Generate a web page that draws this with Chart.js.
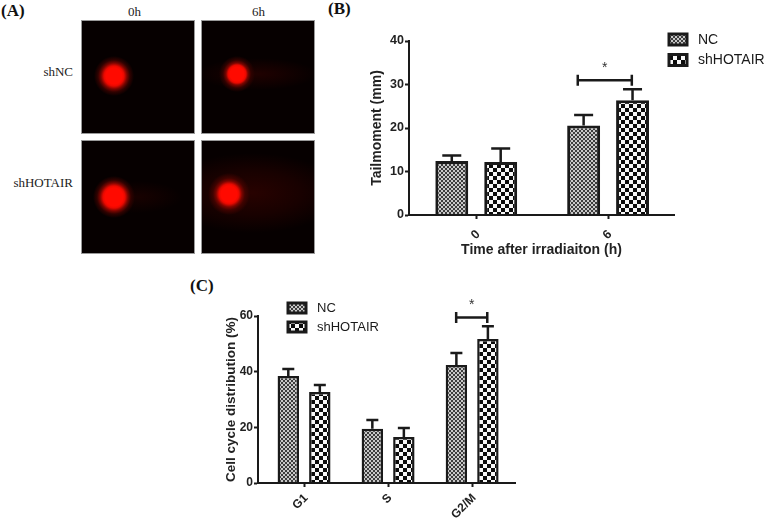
<!DOCTYPE html>
<html>
<head>
<meta charset="utf-8">
<title>Comet assay and cell cycle</title>
<script src="https://cdn.jsdelivr.net/npm/chart.js@4"></script>
<style>
    html, body { margin: 0; padding: 0; background: #fff; }
    #page { position: relative; width: 777px; height: 532px; overflow: hidden; }
    canvas { position: absolute; filter: blur(0.35px); }
    .serif { position: absolute; font-family: "Liberation Serif", serif; color: #222; white-space: nowrap; line-height: 1; }
    .panel-letter { font-size: 17px; font-weight: bold; color: #111; }
    .comet { position: absolute; width: 112px; height: 112px; border: 1px solid #999; background-color: #060000; }
</style>
</head>
<body>
<div id="page">
    <div class="serif panel-letter" style="left:1px;top:2px">(A)</div>
    <div class="serif panel-letter" style="left:328px;top:0px">(B)</div>
    <div class="serif panel-letter" style="left:190px;top:277px">(C)</div>

    <div class="serif" style="left:128px;top:5px;font-size:13px">0h</div>
    <div class="serif" style="left:252px;top:5px;font-size:13px">6h</div>
    <div class="serif" style="right:704px;top:65px;font-size:13px">shNC</div>
    <div class="serif" style="right:704px;top:176px;font-size:13px">shHOTAIR</div>

    <div class="comet" style="left:81px;top:20px;background-image:radial-gradient(circle 20px at 32px 55px,#ff0a00 0,#ff0a00 8px,#e80900 10px,#7a0500 13px,#300200 16px,rgba(30,0,0,0) 20px)"></div>
    <div class="comet" style="left:201px;top:20px;background-image:radial-gradient(circle 18px at 35px 53px,#ff0a00 0,#ff0a00 7px,#e80900 9px,#7a0500 11px,#300200 14px,rgba(30,0,0,0) 18px),radial-gradient(ellipse 60px 16px at 55px 53px,#200100 0,rgba(20,0,0,0) 100%)"></div>
    <div class="comet" style="left:81px;top:140px;background-image:radial-gradient(circle 21px at 32px 56px,#ff0a00 0,#ff0a00 9px,#e80900 11px,#7a0500 14px,#300200 17px,rgba(30,0,0,0) 21px),radial-gradient(ellipse 45px 16px at 55px 56px,#180100 0,rgba(20,0,0,0) 100%)"></div>
    <div class="comet" style="left:201px;top:140px;background-image:radial-gradient(circle 21px at 27px 53px,#ff0a00 0,#ff0a00 8px,#e80900 10px,#7a0500 13px,#400300 16px,rgba(30,0,0,0) 21px),radial-gradient(ellipse 90px 40px at 50px 52px,#280200 0,#180100 55%,rgba(20,0,0,0) 100%)"></div>

    <canvas id="tailChart" width="432" height="245" style="left:345px;top:20px"></canvas>
    <canvas id="cycleChart" width="330" height="248" style="left:195px;top:284px"></canvas>
</div>

<script>
// =========================================
// Data
// =========================================
const seriesNames = ["NC", "shHOTAIR"];

const tailCategories = ["0", "6"];
const tailTicks = [0, 10, 20, 30, 40];
const tailNC = [12.4, 20.6];
const tailSh = [12.2, 26.4];
const tailNCErr = [13.7, 23.0];
const tailShErr = [15.3, 28.9];
const tailBracket = [0.77, 1.18, 31];

const cycleCategories = ["G1", "S", "G2/M"];
const cycleTicks = [0, 20, 40, 60];
const cycleNC = [38.4, 19.5, 42.4];
const cycleSh = [32.7, 16.5, 51.7];
const cycleNCErr = [41.0, 22.6, 46.7];
const cycleShErr = [35.2, 19.8, 56.3];
const cycleBracket = [1.81, 2.18, 59.5];

const INK = "#1a1a1a";
const AXIS_FONT = "'Liberation Sans', Arial, sans-serif";

// =========================================
// Hatch patterns for the bars
// =========================================
function checkerPattern(size, dark, light) {
    const tile = document.createElement("canvas");
    tile.width = size;
    tile.height = size;
    const ctx = tile.getContext("2d");
    ctx.fillStyle = light;
    ctx.fillRect(0, 0, size, size);
    ctx.fillStyle = dark;
    ctx.fillRect(0, 0, size / 2, size / 2);
    ctx.fillRect(size / 2, size / 2, size / 2, size / 2);
    return ctx.createPattern(tile, "repeat");
}

const finePattern = checkerPattern(4, "#3c3c3c", "#c8c8c8");
const coarsePattern = checkerPattern(8, "#0c0c0c", "#f8f8f8");

// =========================================
// Error bars, significance bracket and legend
// =========================================
const annotationPlugin = {
    id: "annotations",
    afterDatasetsDraw(chart, args, opts) {
        const ctx = chart.ctx;
        const xScale = chart.scales.x;
        const yScale = chart.scales.y;

        ctx.save();
        ctx.strokeStyle = INK;
        ctx.lineWidth = 2.5;

        opts.errors.forEach((tops, datasetIndex) => {
            chart.getDatasetMeta(datasetIndex).data.forEach((bar, i) => {
                const top = yScale.getPixelForValue(tops[i]);
                ctx.beginPath();
                ctx.moveTo(bar.x, bar.y);
                ctx.lineTo(bar.x, top);
                ctx.moveTo(bar.x - opts.capHalf, top);
                ctx.lineTo(bar.x + opts.capHalf, top);
                ctx.stroke();
            });
        });

        // bracket
        const x0 = xScale.getPixelForValue(opts.bracket[0]);
        const x1 = xScale.getPixelForValue(opts.bracket[1]);
        const by = yScale.getPixelForValue(opts.bracket[2]);
        ctx.beginPath();
        ctx.moveTo(x0, by);
        ctx.lineTo(x1, by);
        ctx.moveTo(x0, by - 5.5);
        ctx.lineTo(x0, by + 5.5);
        ctx.moveTo(x1, by - 5.5);
        ctx.lineTo(x1, by + 5.5);
        ctx.stroke();

        ctx.fillStyle = "#333";
        ctx.font = "14px " + AXIS_FONT;
        ctx.textAlign = "center";
        ctx.textBaseline = "middle";
        ctx.fillText("*", (x0 + x1) / 2, by - 12);

        // legend
        const lg = opts.legend;
        ctx.lineWidth = 3;
        ctx.font = lg.fontSize + "px " + AXIS_FONT;
        ctx.textAlign = "left";
        seriesNames.forEach((name, i) => {
            const y = lg.top + i * lg.rowGap;
            ctx.fillStyle = i === 0 ? finePattern : coarsePattern;
            ctx.fillRect(lg.left, y, 18, lg.boxHeight);
            ctx.strokeRect(lg.left, y, 18, lg.boxHeight);
            ctx.fillStyle = INK;
            ctx.fillText(name, lg.left + 29, y + lg.boxHeight / 2 + 0.5);
        });
        ctx.restore();
    },
};

// =========================================
// Shared chart builder
// =========================================
function groupedBarChart(id, cfg) {
    const toPoints = (values) => values.map((v, i) => ({ x: i, y: v }));

    return new Chart(document.getElementById(id), {
        type: "bar",
        data: {
            datasets: [
                {
                    label: seriesNames[0],
                    data: toPoints(cfg.nc),
                    backgroundColor: finePattern,
                },
                {
                    label: seriesNames[1],
                    data: toPoints(cfg.sh),
                    backgroundColor: coarsePattern,
                },
            ].map((d) => ({
                ...d,
                borderColor: INK,
                borderWidth: cfg.barBorder,
                borderSkipped: "bottom",
                categoryPercentage: cfg.categoryPercentage,
                barPercentage: cfg.barPercentage,
            })),
        },
        options: {
            responsive: false,
            animation: false,
            layout: { autoPadding: false, padding: cfg.padding },
            scales: {
                x: {
                    type: "linear",
                    offset: false,
                    min: cfg.xMin,
                    max: cfg.xMax,
                    afterBuildTicks: (scale) => {
                        scale.ticks = cfg.categories.map((c, i) => ({ value: i }));
                    },
                    afterFit: (scale) => {
                        scale.height = cfg.xHeight;
                    },
                    grid: {
                        drawOnChartArea: false,
                        offset: false,
                        tickLength: 4,
                        tickWidth: 2,
                        tickColor: INK,
                    },
                    border: { color: INK, width: 2, z: 1 },
                    ticks: {
                        color: "#222",
                        autoSkip: false,
                        minRotation: 45,
                        maxRotation: 45,
                        padding: cfg.xTickPadding,
                        labelOffset: 2,
                        font: { family: AXIS_FONT, size: cfg.tickSize, weight: "bold" },
                        callback: (value) => cfg.categories[value],
                    },
                    title: {
                        display: !!cfg.xTitle,
                        text: cfg.xTitle,
                        color: "#222",
                        padding: { top: 0, bottom: 6 },
                        font: { family: AXIS_FONT, size: 14, weight: "bold" },
                    },
                },
                y: {
                    min: 0,
                    max: cfg.yTicks[cfg.yTicks.length - 1],
                    afterBuildTicks: (scale) => {
                        scale.ticks = cfg.yTicks.map((v) => ({ value: v }));
                    },
                    afterFit: (scale) => {
                        scale.width = cfg.yWidth;
                    },
                    grid: {
                        drawOnChartArea: false,
                        tickLength: 4,
                        tickWidth: 2,
                        tickColor: INK,
                    },
                    border: { color: INK, width: 2 },
                    ticks: {
                        color: "#222",
                        padding: 1,
                        font: { family: AXIS_FONT, size: cfg.tickSize, weight: "bold" },
                    },
                    title: {
                        display: true,
                        text: cfg.yTitle,
                        color: "#222",
                        padding: { top: 0, bottom: 0 },
                        font: { family: AXIS_FONT, size: cfg.yTitleSize, weight: "bold" },
                    },
                },
            },
            plugins: {
                legend: { display: false },
                tooltip: { enabled: false },
                annotations: {
                    errors: [cfg.ncErr, cfg.shErr],
                    bracket: cfg.bracket,
                    capHalf: cfg.capHalf,
                    legend: cfg.legend,
                },
            },
        },
        plugins: [annotationPlugin],
    });
}

// =========================================
// PANEL B: Tail moment
// =========================================
groupedBarChart("tailChart", {
    categories: tailCategories,
    nc: tailNC,
    sh: tailSh,
    ncErr: tailNCErr,
    shErr: tailShErr,
    bracket: tailBracket,
    yTicks: tailTicks,
    yTitle: "Tailmoment (mm)",
    yTitleSize: 14,
    tickSize: 12.5,
    xTitle: "Time after irradiaiton (h)",
    xMin: -0.51,
    xMax: 1.5,
    padding: { left: 24, top: 21, right: 103, bottom: 0 },
    yWidth: 40,
    xHeight: 50,
    xTickPadding: 8,
    categoryPercentage: 0.742,
    barPercentage: 0.673,
    barBorder: 3,
    capHalf: 9.5,
    legend: { left: 324, top: 14, rowGap: 20.5, boxHeight: 11, fontSize: 14 },
});

// =========================================
// PANEL C: Cell cycle distribution
// =========================================
groupedBarChart("cycleChart", {
    categories: cycleCategories,
    nc: cycleNC,
    sh: cycleSh,
    ncErr: cycleNCErr,
    shErr: cycleShErr,
    bracket: cycleBracket,
    yTicks: cycleTicks,
    yTitle: "Cell cycle distribution (%)",
    yTitleSize: 13.5,
    tickSize: 12,
    xTitle: "",
    xMin: -0.548,
    xMax: 2.51,
    padding: { left: 28, top: 32, right: 10, bottom: 0 },
    yWidth: 35,
    xHeight: 49,
    xTickPadding: 4,
    categoryPercentage: 0.75,
    barPercentage: 0.68,
    barBorder: 2.5,
    capHalf: 6,
    legend: { left: 93, top: 19, rowGap: 19, boxHeight: 10, fontSize: 13 },
});
</script>
</body>
</html>
